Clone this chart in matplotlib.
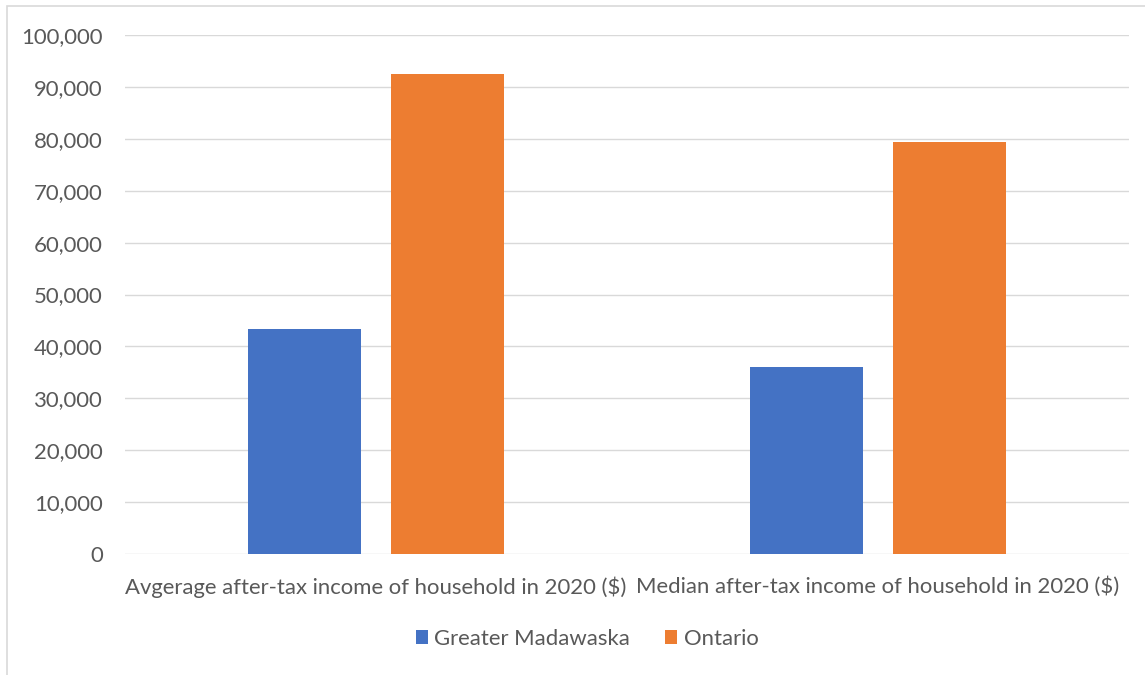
import matplotlib
matplotlib.use("Agg")
import matplotlib.pyplot as plt
from matplotlib.patches import Rectangle
from matplotlib.ticker import FuncFormatter, MultipleLocator
import numpy as np

categories = ["Avgerage after-tax income of household in 2020 ($)",
              "Median after-tax income of household in 2020 ($)"]
series_names = ["Greater Madawaska", "Ontario"]
greater_madawaska = [43350, 35960]
ontario = [92450, 79300]
colors = ["#4472C4", "#ED7D31"]
text_color = "#595959"

plt.rcParams['font.family'] = ['Lato', 'DejaVu Sans']

fig = plt.figure(figsize=(11.45, 6.75), dpi=100)

# measure font size so that the first category label is ~503 px wide
probe = fig.text(0, 0, categories[0], fontsize=10)
fig.canvas.draw()
wpx = probe.get_window_extent().width
probe.remove()
fs = 10 * 503 / wpx

fig.patches.append(Rectangle((7/1145, -0.1), 1.2, 1.1 - 6/675, transform=fig.transFigure,
                             fill=False, edgecolor="#D9D9D9", linewidth=1.2))
ax = fig.add_axes([125/1145, 1 - 554/675, (1129-125)/1145, (554-35)/675])

x = np.arange(len(categories))
w = 0.225
off = 0.142
ax.bar(x - off, greater_madawaska, width=w, color=colors[0], label=series_names[0], zorder=3)
ax.bar(x + off, ontario, width=w, color=colors[1], label=series_names[1], zorder=3)

ax.set_xlim(-0.5, 1.5)
ax.set_ylim(0, 100000)
ax.yaxis.set_major_locator(MultipleLocator(10000))
ax.yaxis.set_major_formatter(FuncFormatter(lambda v, p: f"{int(v):,}"))
ax.grid(axis='y', color="#D9D9D9", linewidth=1.0, zorder=0)
for s in ax.spines.values():
    s.set_visible(False)
ax.tick_params(axis='both', length=0, colors=text_color, labelsize=fs)
ax.tick_params(axis='y', pad=16)
ax.tick_params(axis='x', pad=16)
ax.set_xticks(x)
ax.set_xticklabels(categories)

leg = fig.legend(loc='center', bbox_to_anchor=(587/1145, 1 - 639/675), ncol=2, frameon=False,
                 fontsize=fs, handlelength=0.55, handleheight=0.55, handletextpad=0.3,
                 columnspacing=1.55)
for t in leg.get_texts():
    t.set_color(text_color)

fig.savefig("out.png", dpi=100)
